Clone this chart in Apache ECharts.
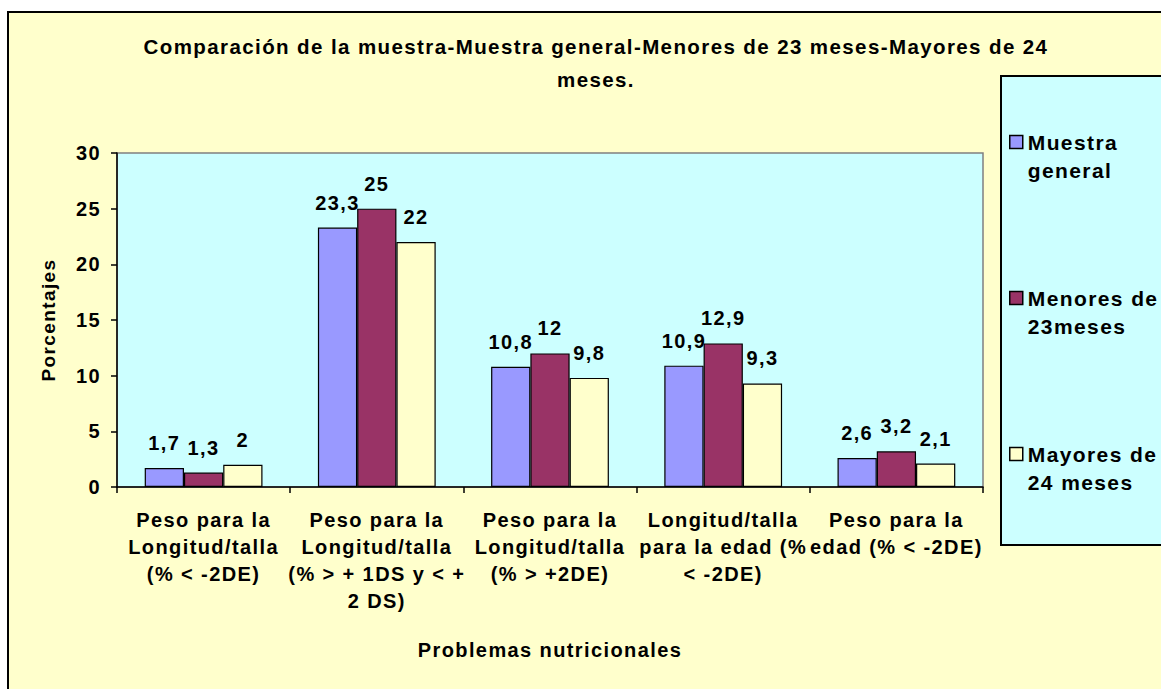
<!DOCTYPE html>
<html>
<head>
<meta charset="utf-8">
<script src="https://cdn.jsdelivr.net/npm/echarts@6/dist/echarts.min.js"></script>
<style>
  html, body { margin: 0; padding: 0; background: #ffffff; }
  #chart { width: 1161px; height: 689px; }
  /* Excel-style wide tracking on every text */
  #chart text { letter-spacing: 1.4px; }
</style>
</head>
<body>
<div id="chart"></div>
<script>
const categories = [
  "Peso para la\nLongitud/talla\n(% < -2DE)",
  "Peso para la\nLongitud/talla\n(% > + 1DS y < +\n2 DS)",
  "Peso para la\nLongitud/talla\n(% > +2DE)",
  "Longitud/talla\npara la edad (%\n< -2DE)",
  "Peso para la\nedad (% < -2DE)"
];
const seriesNames = ["Muestra general", "Menores de 23meses", "Mayores de 24 meses"];
const legendLabels = ["Muestra\ngeneral", "Menores de\n23meses", "Mayores de\n24 meses"];
const muestraGeneral = [1.7, 23.3, 10.8, 10.9, 2.6];
const menores23 = [1.3, 25, 12, 12.9, 3.2];
const mayores24 = [2, 22, 9.8, 9.3, 2.1];
const yMin = 0;
const yMax = 30;
const yStep = 5;

const colors = ["#9999FF", "#993366", "#FFFFCC"];
const font = "Liberation Sans, Arial, sans-serif";

function barSeries(index, values) {
  return {
    name: seriesNames[index],
    type: "bar",
    data: values,
    barGap: "0%",
    barCategoryGap: "32%",
    itemStyle: { color: colors[index], borderColor: "#000000", borderWidth: 1.2 },
    label: {
      show: true,
      position: "top",
      distance: 15,
      color: "#000000",
      fontFamily: font,
      fontWeight: "bold",
      fontSize: 20,
      formatter: (p) => String(p.value).replace(".", ",")
    }
  };
}

const chart = echarts.init(document.getElementById("chart"), null, { renderer: "svg" });

chart.setOption({
  animation: false,
  backgroundColor: "#ffffff",
  textStyle: { fontFamily: font },
  graphic: [
    {
      type: "rect",
      z: -10,
      shape: { x: 8, y: 12, width: 1200, height: 720 },
      style: { fill: "#FFFFCC", stroke: "#000000", lineWidth: 2 }
    },
    {
      type: "rect",
      z: -5,
      shape: { x: 1001, y: 76, width: 220, height: 469 },
      style: { fill: "#CCFFFF", stroke: "#000000", lineWidth: 2 }
    }
  ],
  title: {
    text: "Comparación de la muestra-Muestra general-Menores de 23 meses-Mayores de 24\nmeses.",
    left: 591,
    top: 25,
    textAlign: "center",
    textStyle: {
      fontFamily: font,
      fontWeight: "bold",
      fontSize: 20.5,
      lineHeight: 33,
      color: "#000000"
    }
  },
  legend: {
    orient: "vertical",
    left: 1009,
    top: 100,
    padding: 0,
    itemWidth: 13,
    itemHeight: 13,
    itemGap: 72,
    icon: "rect",
    itemStyle: { borderColor: "#000000", borderWidth: 1.5 },
    data: seriesNames,
    // leading empty line puts the icon level with the first text line
    formatter: (name) => "\n" + legendLabels[seriesNames.indexOf(name)],
    textStyle: {
      fontFamily: font,
      fontWeight: "bold",
      fontSize: 21,
      lineHeight: 28,
      color: "#000000"
    }
  },
  grid: {
    left: 117,
    top: 153,
    right: 178,
    bottom: 202,
    show: true,
    backgroundColor: "#CCFFFF",
    borderColor: "#808080",
    borderWidth: 1.5
  },
  xAxis: {
    type: "category",
    data: categories,
    name: "Problemas nutricionales",
    nameLocation: "middle",
    nameGap: 152,
    nameTextStyle: {
      fontFamily: font,
      fontWeight: "bold",
      fontSize: 20,
      lineHeight: 22,
      color: "#000000"
    },
    axisLine: { lineStyle: { color: "#000000", width: 1.5 } },
    axisTick: { show: true, length: 6, lineStyle: { color: "#000000", width: 1.5 } },
    axisLabel: {
      interval: 0,
      margin: 19,
      fontFamily: font,
      fontWeight: "bold",
      fontSize: 20,
      lineHeight: 27,
      color: "#000000"
    },
    splitLine: { show: false }
  },
  yAxis: {
    type: "value",
    min: yMin,
    max: yMax,
    interval: yStep,
    name: "Porcentajes",
    nameLocation: "middle",
    nameGap: 59,
    nameTextStyle: {
      fontFamily: font,
      fontWeight: "bold",
      fontSize: 19,
      lineHeight: 20,
      color: "#000000"
    },
    axisLine: { show: true, lineStyle: { color: "#000000", width: 1.5 } },
    axisTick: { show: true, length: 6, lineStyle: { color: "#000000", width: 1.5 } },
    axisLabel: {
      margin: 16,
      fontFamily: font,
      fontWeight: "bold",
      fontSize: 20,
      color: "#000000"
    },
    splitLine: { show: false }
  },
  series: [
    barSeries(0, muestraGeneral),
    barSeries(1, menores23),
    barSeries(2, mayores24)
  ]
});
</script>
</body>
</html>
